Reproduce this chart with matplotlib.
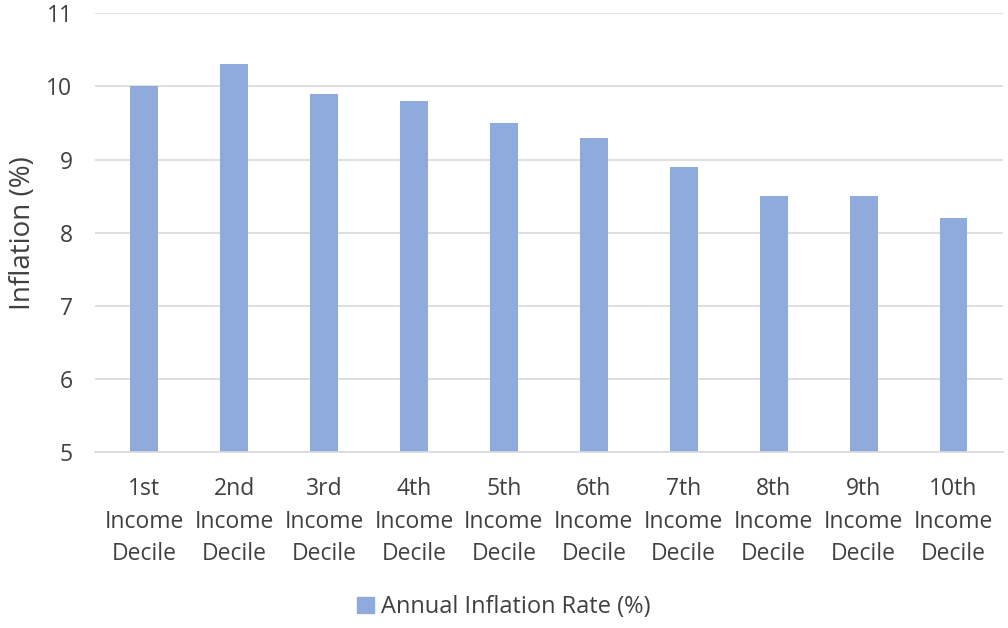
import matplotlib
matplotlib.use("Agg")
import matplotlib.pyplot as plt
from matplotlib.patches import Patch

categories = ["1st\nIncome\nDecile", "2nd\nIncome\nDecile", "3rd\nIncome\nDecile",
              "4th\nIncome\nDecile", "5th\nIncome\nDecile", "6th\nIncome\nDecile",
              "7th\nIncome\nDecile", "8th\nIncome\nDecile", "9th\nIncome\nDecile",
              "10th\nIncome\nDecile"]
inflation = [10.0, 10.3, 9.9, 9.8, 9.5, 9.3, 8.9, 8.5, 8.5, 8.2]
y_ticks = [5, 6, 7, 8, 9, 10, 11]
series_name = "Annual Inflation Rate (%)"

plt.rcParams['font.family'] = ['Open Sans', 'DejaVu Sans']
text_color = "#404040"
bar_color = "#8FAADC"
grid_color = "#D9D9D9"

fig = plt.figure(figsize=(10.08, 6.28), dpi=100)
ax = fig.add_axes([0.094, 0.280, 0.901, 0.699])

x = range(len(categories))
ax.bar(x, inflation, width=0.31, color=bar_color, zorder=2)

ax.set_ylim(5, 11)
ax.set_yticks(y_ticks)
ax.set_xlim(-0.55, len(categories) - 0.45)
ax.set_xticks(list(x))
ax.set_xticklabels(categories, linespacing=1.48)
ax.yaxis.grid(True, color=grid_color, linewidth=1.2, zorder=0)
ax.set_axisbelow(True)

for s in ["top", "right", "left"]:
    ax.spines[s].set_visible(False)
ax.spines["bottom"].set_color(grid_color)
ax.spines["bottom"].set_linewidth(1.2)

ax.tick_params(axis="both", length=0, labelsize=16.5, colors=text_color)
ax.tick_params(axis="x", pad=18)
ax.tick_params(axis="y", pad=16)

ax.set_ylabel("Inflation (%)", fontsize=20, color=text_color, labelpad=7)

fig.legend(handles=[Patch(color=bar_color, label=series_name)],
           loc="center", bbox_to_anchor=(0.5, 0.033), frameon=False,
           fontsize=17, labelcolor=text_color, handlelength=0.7,
           handleheight=0.7, handletextpad=0.3)

fig.savefig("out.png", dpi=100)
